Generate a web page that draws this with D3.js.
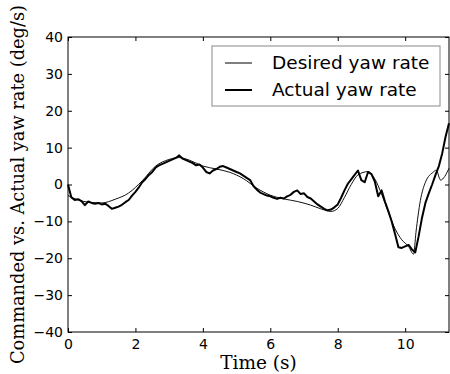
<!DOCTYPE html>
<html>
<head>
<meta charset="utf-8">
<script src="https://cdn.jsdelivr.net/npm/d3@7"></script>
<style>
  body { margin: 0; background: #fff; }
  .tick text { font-family: "DejaVu Sans", sans-serif; font-size: 14px; fill: #000; }
  .axis-label { font-family: "DejaVu Serif", serif; font-size: 18.5px; fill: #000; }
  .legend text { font-family: "DejaVu Sans", sans-serif; font-size: 18.5px; fill: #000; }
</style>
</head>
<body>
<div id="chart"></div>
<script>
// time axis of the actual (measured) signal
let actualTime = [0, 0.1, 0.2, 0.3, 0.4, 0.5, 0.6, 0.7, 0.8, 0.9,
  1.0, 1.1, 1.2, 1.3, 1.4, 1.5, 1.6, 1.7, 1.8, 1.9,
  2.0, 2.1, 2.2, 2.3, 2.4, 2.5, 2.6, 2.7, 2.8, 2.9,
  3.0, 3.1, 3.2, 3.3, 3.4, 3.5, 3.6, 3.7, 3.8, 3.9,
  4.0, 4.1, 4.2, 4.3, 4.4, 4.5, 4.6, 4.7, 4.8, 4.9,
  5.0, 5.1, 5.2, 5.3, 5.4, 5.5, 5.6, 5.7, 5.8, 5.9,
  6.0, 6.1, 6.2, 6.3, 6.4, 6.5, 6.6, 6.7, 6.8, 6.9,
  7.0, 7.1, 7.2, 7.3, 7.4, 7.5, 7.6, 7.7, 7.8, 7.9,
  8.0, 8.1, 8.2, 8.3, 8.4, 8.5, 8.6, 8.7, 8.8, 8.9,
  9.0, 9.1, 9.2, 9.3, 9.4, 9.5, 9.6, 9.7, 9.8, 9.9,
  10.0, 10.1, 10.2, 10.3, 10.4, 10.5, 10.6, 10.7, 10.8, 10.9,
  11.0, 11.1, 11.2, 11.3];
let actualRate = [0, -3.5, -4.2, -4.0, -4.5, -5.6, -4.6, -5.0, -5.2, -5.0,
  -5.4, -5.2, -5.8, -6.6, -6.3, -6.0, -5.5, -4.8, -4.2, -3.0,
  -2.0, -0.8, 0.6, 1.5, 2.6, 3.4, 4.6, 5.2, 5.6, 6.0,
  6.4, 6.8, 7.2, 7.9, 7.0, 6.6, 6.2, 5.8, 5.2, 5.4,
  4.6, 3.4, 3.0, 3.8, 4.2, 4.8, 5.0, 4.6, 4.2, 3.8,
  3.4, 3.0, 2.4, 1.8, 1.2, -0.4, -1.4, -2.2, -2.6, -3.0,
  -3.2, -3.6, -3.9, -3.6, -3.8, -3.2, -2.8, -2.0, -1.6, -2.6,
  -2.4, -3.4, -3.8, -4.6, -5.4, -6.0, -6.6, -7.0, -6.8, -6.2,
  -5.4, -3.6, -1.6, 0.2, 1.4, 2.6, 3.8, 1.2, 0.6, 3.4,
  2.8, 0.8, -3.2, -1.6, -4.6, -7.2, -10.0, -13.4, -17.0, -17.2,
  -16.8, -16.4, -17.6, -18.4, -14.0, -9.0, -5.0, -2.4, 0.0, 2.6,
  5.0, 8.5, 13.0, 16.6];

// desired (commanded) signal
let desiredTime = [0, 0.3, 0.6, 1.0, 1.4, 1.8, 2.2, 2.6, 3.0, 3.3,
  3.6, 4.0, 4.4, 4.8, 5.2, 5.6, 6.0, 6.4, 6.8, 7.2,
  7.5, 7.8, 8.0, 8.2, 8.4, 8.6, 8.9, 9.1, 9.3, 9.5,
  9.7, 9.9, 10.1, 10.25, 10.32, 10.45, 10.6, 10.84, 10.92, 11.05, 11.3];
let desiredRate = [-3.0, -4.2, -4.8, -5.0, -4.0, -2.3, 1.0, 5.0, 6.8, 7.3,
  6.6, 5.0, 4.2, 3.3, 1.6, -1.0, -2.9, -3.9, -4.6, -5.6,
  -6.6, -7.3, -6.5, -3.5, 0.0, 2.6, 3.5, 1.5, -2.6, -7.5,
  -12.0, -15.0, -16.8, -18.9, -13.0, -4.4, 0.6, 3.4, 3.9, 1.2, 4.4];

let xTicks = [0, 2, 4, 6, 8, 10];
let yTicks = [-40, -30, -20, -10, 0, 10, 20, 30, 40];
let seriesNames = ["Desired yaw rate", "Actual yaw rate"];

let margin = {top: 37, right: 1, left: 68, bottom: 42};
let width = 450 - margin.left - margin.right;
let height = 374 - margin.top - margin.bottom;

let svg = d3.select("#chart")
    .append("svg")
    .attr("width", 450)
    .attr("height", 374)
    .append("g")
    .attr("transform", "translate(" + margin.left + "," + margin.top + ")");

let x = d3.scaleLinear().domain([0, 11.3]).range([0, width]);
let y = d3.scaleLinear().domain([-40, 40]).range([height, 0]);

// axes, ticks pointing inwards on all four sides
function styleAxis(g) {
    g.select(".domain").remove();
    g.selectAll(".tick line").attr("stroke", "#000").attr("stroke-width", 1);
}
svg.append("g")
    .attr("transform", "translate(0," + height + ")")
    .call(d3.axisBottom(x).tickValues(xTicks).tickSize(-4).tickPadding(7).tickFormat(d3.format("d")))
    .call(styleAxis);
svg.append("g")
    .call(d3.axisTop(x).tickValues(xTicks).tickSize(-4).tickFormat(""))
    .call(styleAxis);
svg.append("g")
    .call(d3.axisLeft(y).tickValues(yTicks).tickSize(-4).tickPadding(5)
        .tickFormat(d => d < 0 ? "\u2212" + Math.abs(d) : d))
    .call(styleAxis);
svg.append("g")
    .attr("transform", "translate(" + width + ",0)")
    .call(d3.axisRight(y).tickValues(yTicks).tickSize(-4).tickFormat(""))
    .call(styleAxis);

let desired = desiredTime.map((t, i) => [t, desiredRate[i]]);
let actual = actualTime.map((t, i) => [t, actualRate[i]]);

let line = d3.line()
    .x(d => x(d[0]))
    .y(d => y(d[1]))
    .curve(d3.curveMonotoneX);

svg.append("path")
    .datum(desired)
    .attr("fill", "none")
    .attr("stroke", "#111")
    .attr("stroke-width", 1)
    .attr("d", line);

svg.append("path")
    .datum(actual)
    .attr("fill", "none")
    .attr("stroke", "#000")
    .attr("stroke-width", 2)
    .attr("stroke-linejoin", "round")
    .attr("d", line.curve(d3.curveLinear));

// frame
svg.append("rect")
    .attr("width", width)
    .attr("height", height)
    .attr("fill", "none")
    .attr("stroke", "#000")
    .attr("stroke-width", 1);

// legend
let legend = svg.append("g")
    .attr("class", "legend")
    .attr("transform", "translate(144,9)");
legend.append("rect")
    .attr("width", 228)
    .attr("height", 60)
    .attr("fill", "#fff")
    .attr("stroke", "#888")
    .attr("stroke-width", 1);
seriesNames.forEach(function (name, i) {
    legend.append("line")
        .attr("x1", 13).attr("x2", 40)
        .attr("y1", 17 + i * 27).attr("y2", 17 + i * 27)
        .attr("stroke", "#000")
        .attr("stroke-width", i === 0 ? 1 : 2);
    legend.append("text")
        .attr("x", 60)
        .attr("y", 17 + i * 27)
        .attr("dy", "0.35em")
        .text(name);
});

// axis titles
svg.append("text")
    .attr("class", "axis-label")
    .attr("x", width / 2)
    .attr("y", height + 37)
    .attr("text-anchor", "middle")
    .text("Time (s)");
svg.append("text")
    .attr("class", "axis-label")
    .style("font-size", "17.8px")
    .attr("transform", "rotate(-90)")
    .attr("x", -height / 2)
    .attr("y", -44)
    .attr("text-anchor", "middle")
    .text("Commanded vs. Actual yaw rate (deg/s)");
</script>
</body>
</html>
